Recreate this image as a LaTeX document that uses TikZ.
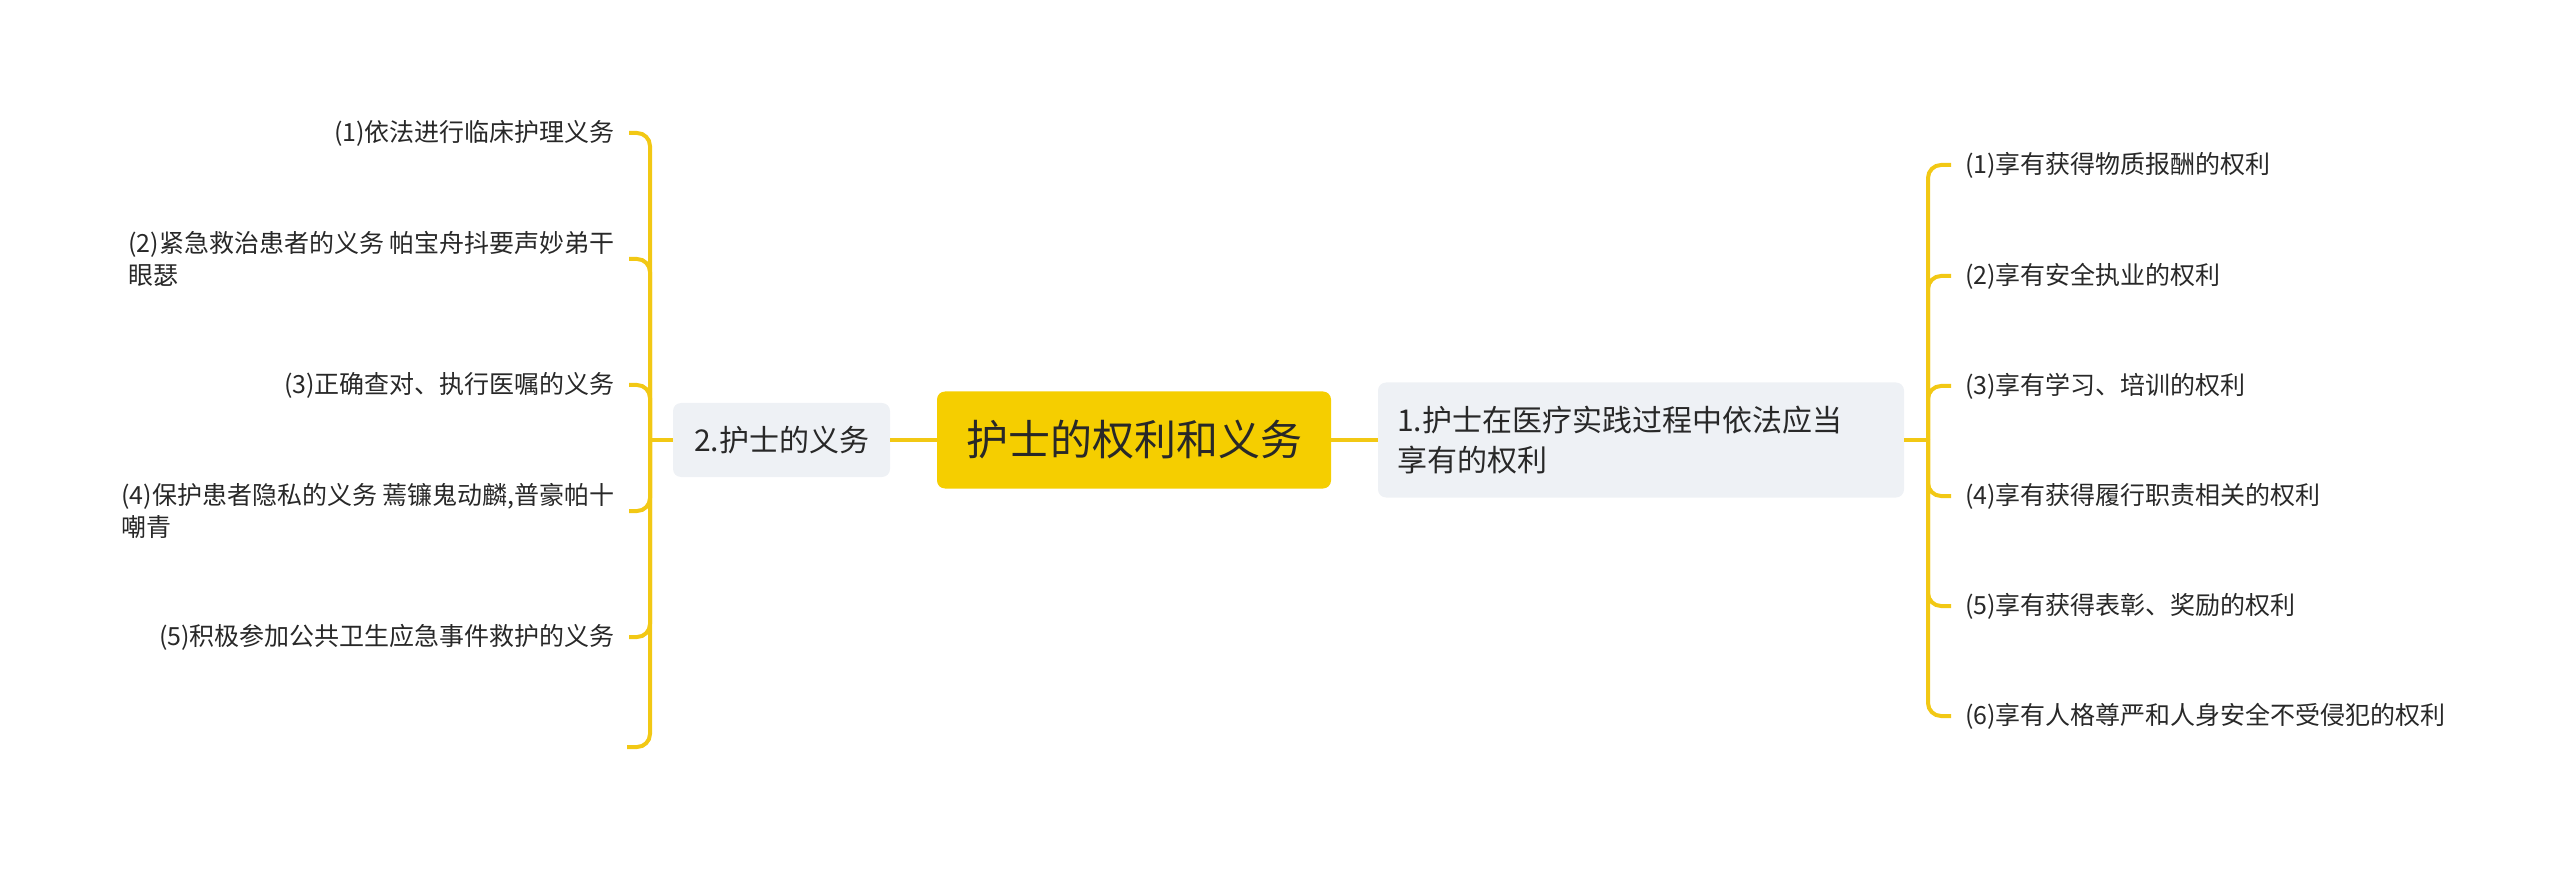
\documentclass[tikz,border=0pt]{standalone}
\usepackage{fontspec}
\setmainfont{Noto Sans CJK SC}
\usetikzlibrary{positioning}
\definecolor{mmyellow}{RGB}{245,206,0}
\definecolor{mmline}{RGB}{242,200,20}
\definecolor{mmgrey}{RGB}{238,241,245}
\definecolor{mmtext}{RGB}{40,40,40}

\begin{document}
\begin{tikzpicture}[x=1pt,y=-1pt,every node/.style={text=mmtext},
    rootbox/.style={fill=mmyellow,rounded corners=8pt,minimum width=394pt,minimum height=97pt,font=\fontsize{42pt}{50pt}\selectfont},
    branchbox/.style={fill=mmgrey,rounded corners=8pt,font=\fontsize{30pt}{40pt}\selectfont},
    leaf/.style={inner xsep=14pt,inner ysep=0pt,align=left,font=\fontsize{25pt}{32pt}\selectfont},
    conn/.style={draw=mmline,line width=4pt,rounded corners=13pt}]
    \useasboundingbox (0,0) rectangle (2560,882);
    % centre and the two branches
    \node[rootbox] (root) at (1134,440) {护士的权利和义务};
    \node[branchbox,minimum width=217pt,minimum height=74pt] (duty) at (781.5,440) {2.护士的义务};
    \node[branchbox,text width=488pt,inner xsep=19pt,minimum height=115pt,align=left] (right) at (1641,440) {1.护士在医疗实践过程中依法应当\\享有的权利};
    \draw[conn] (root.west) -- (duty.east);
    \draw[conn] (root.east) -- (right.west);
    % duties, on the left
    \coordinate (dj) at (650,440);
    \node[leaf,anchor=east] (d1) at (629,133) {(1)依法进行临床护理义务};
    \node[leaf,anchor=east] (d2) at (629,259) {(2)紧急救治患者的义务 帕宝舟抖要声妙弟干\\眼瑟};
    \node[leaf,anchor=east] (d3) at (629,385) {(3)正确查对、执行医嘱的义务};
    \node[leaf,anchor=east] (d4) at (629,511) {(4)保护患者隐私的义务 蔫镰鬼动麟,普豪帕十\\嘲青};
    \node[leaf,anchor=east] (d5) at (629,637) {(5)积极参加公共卫生应急事件救护的义务};
    \coordinate (d6) at (627,747);
    \draw[conn] (duty.west) -- (dj);
    \foreach \n in {d1,d2,d3,d4,d5} \draw[conn] (dj) |- (\n.east);
    \draw[conn] (dj) |- (d6);
    % rights, on the right
    \coordinate (rj) at (1928,440);
    \node[leaf,anchor=west] (r1) at (1951,165) {(1)享有获得物质报酬的权利};
    \node[leaf,anchor=west] (r2) at (1951,276) {(2)享有安全执业的权利};
    \node[leaf,anchor=west] (r3) at (1951,386) {(3)享有学习、培训的权利};
    \node[leaf,anchor=west] (r4) at (1951,496) {(4)享有获得履行职责相关的权利};
    \node[leaf,anchor=west] (r5) at (1951,606) {(5)享有获得表彰、奖励的权利};
    \node[leaf,anchor=west] (r6) at (1951,716) {(6)享有人格尊严和人身安全不受侵犯的权利};
    \draw[conn] (right.east) -- (rj);
    \foreach \n in {r1,r2,r3,r4,r5,r6} \draw[conn] (rj) |- (\n.west);
  \end{tikzpicture}
\end{document}
